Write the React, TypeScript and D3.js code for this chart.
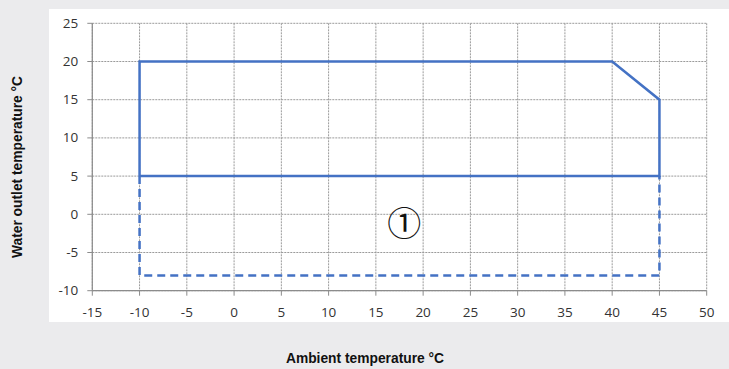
import React from "react";
import * as d3 from "d3";

// envelope of the operating range (°C)
const solidEnvelope: [number, number][] = [
  [-10, 5],
  [-10, 20],
  [40, 20],
  [45, 15],
  [45, 5],
  [-10, 5],
];
const dashedEnvelope: [number, number][] = [
  [-10, 5],
  [-10, -8],
  [45, -8],
  [45, 5],
];
const xTicks = [-15, -10, -5, 0, 5, 10, 15, 20, 25, 30, 35, 40, 45, 50];
const yTicks = [-10, -5, 0, 5, 10, 15, 20, 25];
const zoneLabel = { x: 18, y: -1, text: "①" };

const W = 729;
const H = 369;
const margins = { top: 23.3, right: 22.3, bottom: 78.3, left: 92.3 };
const blue = "#4472c4";

const App = () => {
  const xScale = d3
    .scaleLinear()
    .domain([-15, 50])
    .range([margins.left, W - margins.right]);
  const yScale = d3
    .scaleLinear()
    .domain([-10, 25])
    .range([H - margins.bottom, margins.top]);

  const line = d3
    .line<[number, number]>()
    .x((d) => xScale(d[0]))
    .y((d) => yScale(d[1]));

  const x0 = xScale(-15);
  const x1 = xScale(50);
  const y0 = yScale(-10);
  const y1 = yScale(25);
  const tickFont = "'Open Sans', 'DejaVu Sans', sans-serif";

  return (
    <svg
      width={W}
      height={H}
      style={{ position: "absolute", left: 0, top: 0 }}
    >
      <rect x={0} y={0} width={W} height={H} fill="#ebebed" />
      <rect x={49} y={9} width={W - 49} height={313} fill="#ffffff" />

      {/* grid */}
      {yTicks.map((t) => (
        <line
          key={"gy" + t}
          x1={x0}
          x2={x1}
          y1={yScale(t)}
          y2={yScale(t)}
          stroke="#9a9a9a"
          strokeWidth={1}
          strokeDasharray="2 1"
        />
      ))}
      {xTicks.map((t) => (
        <line
          key={"gx" + t}
          x1={xScale(t)}
          x2={xScale(t)}
          y1={y1}
          y2={y0}
          stroke="#9a9a9a"
          strokeWidth={1}
          strokeDasharray="2 1"
        />
      ))}

      {/* axes */}
      <line x1={x0} x2={x1} y1={y0} y2={y0} stroke="#8c8c8c" strokeWidth={1.2} />
      <line x1={x0} x2={x0} y1={y1} y2={y0} stroke="#8c8c8c" strokeWidth={1.2} />
      {xTicks.map((t) => (
        <line
          key={"tx" + t}
          x1={xScale(t)}
          x2={xScale(t)}
          y1={y0}
          y2={y0 + 5}
          stroke="#8c8c8c"
        />
      ))}
      {yTicks.map((t) => (
        <line
          key={"ty" + t}
          x1={x0 - 5}
          x2={x0}
          y1={yScale(t)}
          y2={yScale(t)}
          stroke="#8c8c8c"
        />
      ))}

      {/* tick labels */}
      {xTicks.map((t) => (
        <text
          key={"lx" + t}
          x={xScale(t)}
          y={y0 + 26.5}
          textAnchor="middle"
          fontFamily={tickFont}
          fontSize={13.5}
          fill="#333"
        >
          {t}
        </text>
      ))}
      {yTicks.map((t) => (
        <text
          key={"ly" + t}
          x={x0 - 14}
          y={yScale(t) + 4.5}
          textAnchor="end"
          fontFamily={tickFont}
          fontSize={13.5}
          fill="#333"
        >
          {t}
        </text>
      ))}

      {/* envelope */}
      <path
        d={line(dashedEnvelope) ?? ""}
        fill="none"
        stroke={blue}
        strokeWidth={2.5}
        strokeDasharray="8 5"
      />
      <path
        d={line(solidEnvelope) ?? ""}
        fill="none"
        stroke={blue}
        strokeWidth={2.5}
        strokeLinejoin="miter"
      />

      <text
        x={xScale(zoneLabel.x)}
        y={yScale(zoneLabel.y)}
        textAnchor="middle"
        dominantBaseline="central"
        fontFamily="'Noto Sans CJK JP', 'DejaVu Sans', sans-serif"
        fontSize={34}
        fill="#111"
      >
        {zoneLabel.text}
      </text>

      {/* axis titles */}
      <text
        x={365}
        y={363}
        textAnchor="middle"
        fontFamily="'Liberation Sans', Arial, sans-serif"
        fontWeight="bold"
        fontSize={13.8}
        fill="#111"
      >
        Ambient temperature °C
      </text>
      <text
        transform="translate(22, 167) rotate(-90)"
        textAnchor="middle"
        fontFamily="'Liberation Sans', Arial, sans-serif"
        fontWeight="bold"
        fontSize={13.8}
        fill="#111"
      >
        Water outlet temperature °C
      </text>
    </svg>
  );
};

export default App;
